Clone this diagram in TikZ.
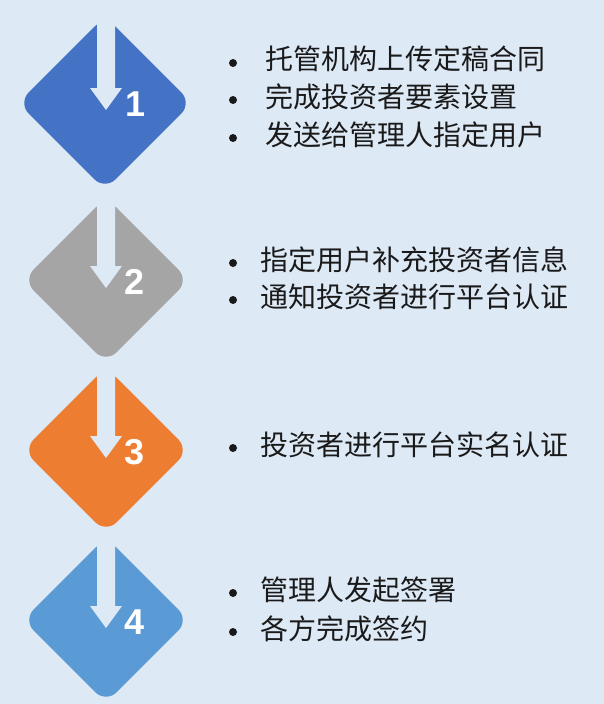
\documentclass[tikz,border=0pt]{standalone}
\usepackage{fontspec}
\setmainfont{Liberation Sans}
\newfontfamily\cjk{Noto Sans CJK SC}
\usetikzlibrary{shapes.geometric}
\definecolor{bgc}{RGB}{222,233,246}
\definecolor{dblue}{RGB}{68,114,196}
\definecolor{dgray}{RGB}{165,165,165}
\definecolor{dorange}{RGB}{237,125,49}
\definecolor{dlblue}{RGB}{91,155,213}
\definecolor{txt}{RGB}{26,26,26}
\tikzset{
  stepdia/.style={shape=diamond, aspect=1, inner sep=0pt, draw=none, rounded corners=15pt},
  numlbl/.style={text=white, font=\fontsize{36}{36}\selectfont\bfseries, inner sep=0pt},
  bul/.style={circle, fill=txt, inner sep=0pt, minimum size=8pt},
  line/.style={anchor=west, inner sep=0pt, text=txt, font=\cjk\fontsize{28}{30}\selectfont},
}
\newcommand{\downarrowshape}[2]{% x center, y center of diamond
  \fill[bgc] (#1-9,#2-84) -- (#1+9,#2-84) -- (#1+9,#2-14) -- (#1+16,#2-14)
     -- (#1,#2+8) -- (#1-16,#2-14) -- (#1-9,#2-14) -- cycle;
}
\begin{document}
\begin{tikzpicture}[x=1pt,y=-1pt]
\useasboundingbox (0,0) rectangle (604,704);
\fill[bgc] (0,0) rectangle (604,704);

% diamonds
\node[stepdia, fill=dblue, minimum size=174pt] (d1) at (105,103) {};
\node[stepdia, fill=dgray, minimum size=166pt] (d2) at (106,280) {};
\node[stepdia, fill=dorange, minimum size=166pt] (d3) at (106,450) {};
\node[stepdia, fill=dlblue, minimum size=166pt] (d4) at (106,620) {};

% arrows
\downarrowshape{106}{102}
\downarrowshape{106}{280}
\downarrowshape{106}{450}
\downarrowshape{106}{620}

% numbers
\node[numlbl] (n1) at (136,104) {1};
\node[numlbl] (n2) at (135,282) {2};
\node[numlbl] (n3) at (135,452) {3};
\node[numlbl] (n4) at (135,622) {4};

% texts section 1
\node[bul] (b11) at (233,63) {};
\node[line] (t11) at (265,59) {托管机构上传定稿合同};
\node[bul] (b12) at (233,100) {};
\node[line] (t12) at (265,96.5) {完成投资者要素设置};
\node[bul] (b13) at (233,138) {};
\node[line] (t13) at (265,134.5) {发送给管理人指定用户};

% section 2
\node[bul] (b21) at (233,263) {};
\node[line] (t21) at (260,259.5) {指定用户补充投资者信息};
\node[bul] (b22) at (233,300) {};
\node[line] (t22) at (260,296.5) {通知投资者进行平台认证};

% section 3
\node[bul] (b31) at (233,448) {};
\node[line] (t31) at (260,444.5) {投资者进行平台实名认证};

% section 4
\node[bul] (b41) at (233,593) {};
\node[line] (t41) at (260,589.5) {管理人发起签署};
\node[bul] (b42) at (233,632) {};
\node[line] (t42) at (260,628.5) {各方完成签约};
\end{tikzpicture}
\end{document}
